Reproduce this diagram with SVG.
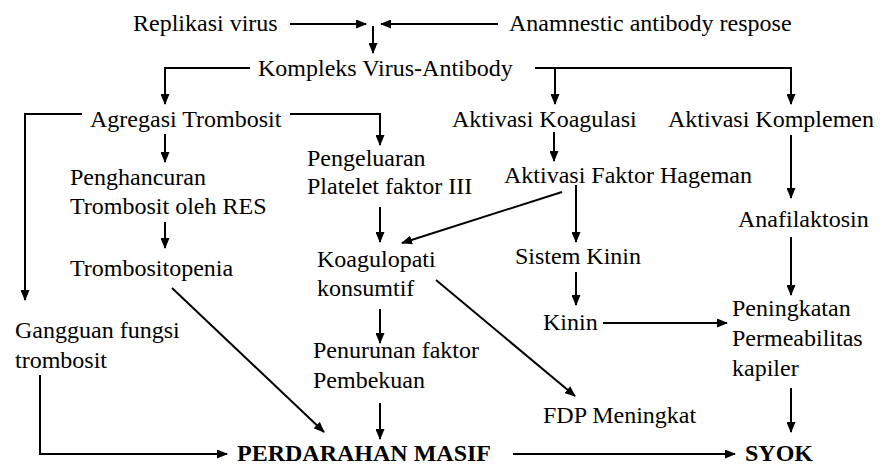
<svg xmlns="http://www.w3.org/2000/svg" width="880" height="465" viewBox="0 0 880 465">
<style>
  text { font-family: "Liberation Serif", "Times New Roman", serif; font-size: 24px; fill: #000; }
  .b { font-weight: bold; }
  .c { fill: none; stroke: #000; stroke-width: 2; }
</style>
<defs>
  <marker id="ah" markerUnits="userSpaceOnUse" markerWidth="11" markerHeight="9" refX="10" refY="4.5" orient="auto">
    <path d="M0,0 L11,4.5 L0,9 z" fill="#000"/>
  </marker>
</defs>
<rect width="880" height="465" fill="#fff"/>
<g id="connectors">
  <path class="c" d="M290,24 H366" marker-end="url(#ah)"/>
  <path class="c" d="M498,24 H381" marker-end="url(#ah)"/>
  <path class="c" d="M373,26 V53" stroke-width="3" marker-end="url(#ah)"/>
  <path class="c" d="M250,68 H165 V104" marker-end="url(#ah)"/>
  <path class="c" d="M535,68 H791 V104" marker-end="url(#ah)"/>
  <path class="c" d="M555,68 V104" marker-end="url(#ah)"/>
  <path class="c" d="M82,114 H25 V300" marker-end="url(#ah)"/>
  <path class="c" d="M290,114 H380 V145" marker-end="url(#ah)"/>
  <path class="c" d="M165,134 V162" marker-end="url(#ah)"/>
  <path class="c" d="M165,222 V248" marker-end="url(#ah)"/>
  <path class="c" d="M380,207 V242" marker-end="url(#ah)"/>
  <path class="c" d="M562,192 L402,243" marker-end="url(#ah)"/>
  <path class="c" d="M554,132 V161" marker-end="url(#ah)"/>
  <path class="c" d="M576,185 V242" marker-end="url(#ah)"/>
  <path class="c" d="M576,272 V305" marker-end="url(#ah)"/>
  <path class="c" d="M603,323 H727" marker-end="url(#ah)"/>
  <path class="c" d="M791,135 V198" marker-end="url(#ah)"/>
  <path class="c" d="M791,237 V295" marker-end="url(#ah)"/>
  <path class="c" d="M791,388 V432" marker-end="url(#ah)"/>
  <path class="c" d="M380,309 V343" marker-end="url(#ah)"/>
  <path class="c" d="M436,280 L575,396" marker-end="url(#ah)"/>
  <path class="c" d="M380,403 V439" marker-end="url(#ah)"/>
  <path class="c" d="M172,288 L324,432" marker-end="url(#ah)"/>
  <path class="c" d="M40,375 V454 H227" marker-end="url(#ah)"/>
  <path class="c" d="M513,454 H735" marker-end="url(#ah)"/>
</g>
<g id="replikasi"><text x="133" y="31">Replikasi virus</text></g>
<g id="anamnestic"><text x="509" y="31">Anamnestic antibody respose</text></g>
<g id="kompleks"><text x="258" y="76">Kompleks Virus-Antibody</text></g>
<g id="agregasi"><text x="90" y="127">Agregasi Trombosit</text></g>
<g id="koagulasi"><text x="452" y="127">Aktivasi Koagulasi</text></g>
<g id="komplemen"><text x="668" y="127">Aktivasi Komplemen</text></g>
<g id="penghancuran"><text x="70" y="185">Penghancuran</text><text x="70" y="214">Trombosit oleh RES</text></g>
<g id="pengeluaran"><text x="307" y="166">Pengeluaran</text><text x="307" y="194">Platelet faktor III</text></g>
<g id="hageman"><text x="504" y="183">Aktivasi Faktor Hageman</text></g>
<g id="anafilaktosin"><text x="738" y="227">Anafilaktosin</text></g>
<g id="trombositopenia"><text x="70" y="276">Trombositopenia</text></g>
<g id="koagulopati"><text x="317" y="267">Koagulopati</text><text x="317" y="296">konsumtif</text></g>
<g id="sistemkinin"><text x="515" y="264">Sistem Kinin</text></g>
<g id="kinin"><text x="543" y="330">Kinin</text></g>
<g id="peningkatan"><text x="732" y="316">Peningkatan</text><text x="732" y="346">Permeabilitas</text><text x="732" y="376">kapiler</text></g>
<g id="gangguan"><text x="15" y="338">Gangguan fungsi</text><text x="15" y="368">trombosit</text></g>
<g id="penurunan"><text x="313" y="358">Penurunan faktor</text><text x="313" y="388">Pembekuan</text></g>
<g id="fdp"><text x="543" y="423">FDP Meningkat</text></g>
<g id="perdarahan"><text class="b" x="237" y="461">PERDARAHAN MASIF</text></g>
<g id="syok"><text class="b" x="745" y="461">SYOK</text></g>
</svg>
